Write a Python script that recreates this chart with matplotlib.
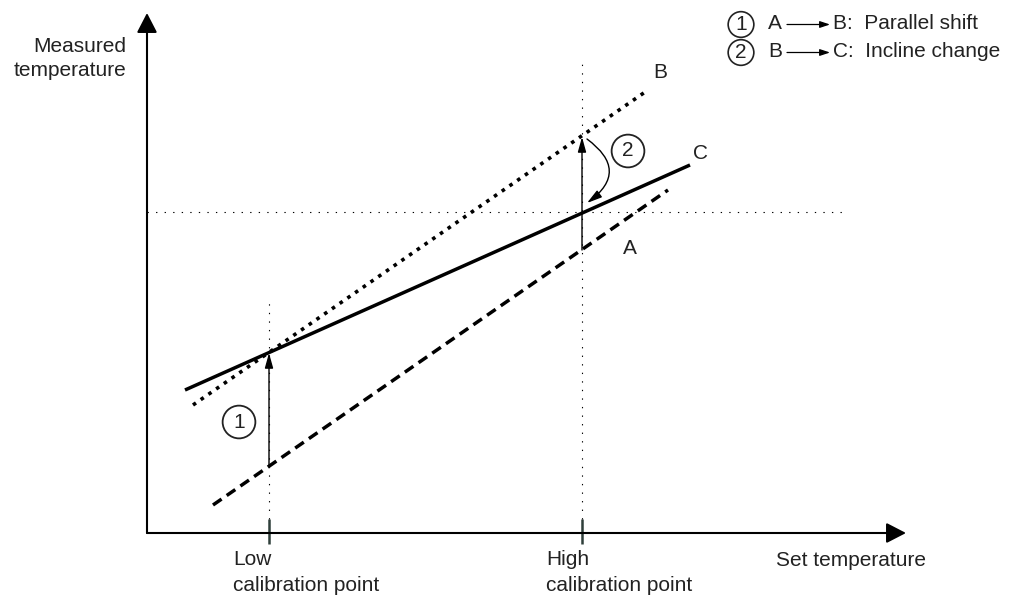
import matplotlib.pyplot as plt
from matplotlib.patches import FancyArrowPatch

plt.rcParams['font.family'] = ['Liberation Sans', 'DejaVu Sans']

# diagram units (about 1 px each), origin where the two axes meet
x_axis_end = 759
y_axis_end = 520
low_cal = 122
high_cal = 435
cal_labels = ['Low\ncalibration point', 'High\ncalibration point']

# characteristic lines A (original), B (after offset), C (after incline change)
line_a_x = [66, 521]
line_a_y = [28, 343]
line_b_x = [46, 501]
line_b_y = [128, 443]
line_c_x = [38, 543]
line_c_y = [143, 368]

# levels at the calibration points
low_a = 67
low_bc = 180
high_a = 283
high_b = 396
high_c = 321

guide_right = 698
low_guide_top = 233
high_guide_top = 469

legend_rows = [('1', 'A', 'B:  Parallel shift'), ('2', 'B', 'C:  Incline change')]

TXT = '#222222'
FS = 15

fig = plt.figure(figsize=(10.1, 5.96), dpi=100)
ax = fig.add_axes([0, 0, 1, 1])
ax.set_xlim(-147, 863)
ax.set_ylim(-63, 533)
ax.axis('off')

big_head = '-|>,head_length=1.2,head_width=0.62'
small_head = '-|>,head_length=0.9,head_width=0.25'

# axes with arrow heads
ax.annotate('', xy=(x_axis_end, 0), xytext=(0, 0),
            arrowprops=dict(arrowstyle=big_head, mutation_scale=10, lw=1.5,
                            color='black', shrinkA=0, shrinkB=0))
ax.annotate('', xy=(0, y_axis_end), xytext=(0, 0),
            arrowprops=dict(arrowstyle=big_head, mutation_scale=10, lw=1.5,
                            color='black', shrinkA=0, shrinkB=0))

# calibration ticks + labels (baseline = last line)
for x, lab in zip([low_cal, high_cal], cal_labels):
    ax.plot([x, x], [-11, 14], color='#2f3f3a', lw=1.8, solid_capstyle='butt')
    ax.text(x - 36, -58, lab, ha='left', va='baseline', fontsize=FS, color=TXT,
            linespacing=1.46)

ax.text(629, -33, 'Set temperature', ha='left', va='baseline', fontsize=FS, color=TXT)
ax.text(-21, 457, 'Measured\ntemperature', ha='right', va='baseline', fontsize=FS,
        color=TXT, linespacing=1.35)

# dotted guide lines
guide = dict(color='black', lw=0.8, ls=(0, (1.2, 6.5)))
ax.plot([0, guide_right], [high_c, high_c], **guide)
ax.plot([low_cal, low_cal], [14, low_guide_top], **guide)
ax.plot([high_cal, high_cal], [14, high_guide_top], **guide)

# characteristic lines
ax.plot(line_a_x, line_a_y, color='black', lw=2.5, ls=(0, (3, 1.8)))
ax.plot(line_b_x, line_b_y, color='black', lw=2.6, ls=(0, (1, 1.6)))
ax.plot(line_c_x, line_c_y, color='black', lw=2.5, solid_capstyle='butt')

ax.text(506, 455, 'B', fontsize=FS, color=TXT, ha='left', va='baseline')
ax.text(546, 374, 'C', fontsize=FS, color=TXT, ha='left', va='baseline')
ax.text(476, 279, 'A', fontsize=FS, color=TXT, ha='left', va='baseline')

# step 1: parallel shift at low point
ax.annotate('', xy=(low_cal, low_bc), xytext=(low_cal, low_a),
            arrowprops=dict(arrowstyle=small_head, mutation_scale=10, lw=1.0,
                            color='black', shrinkA=0, shrinkB=0))
# shift seen at high point
ax.annotate('', xy=(high_cal, high_b), xytext=(high_cal, high_a),
            arrowprops=dict(arrowstyle=small_head, mutation_scale=10, lw=1.0,
                            color='black', shrinkA=0, shrinkB=0))
# step 2: incline change
ax.add_patch(FancyArrowPatch((high_cal + 5, high_b - 2), (high_cal + 5, high_c + 9),
                             connectionstyle='arc3,rad=-0.68', arrowstyle=small_head,
                             mutation_scale=10, lw=1.0, color='black',
                             shrinkA=0, shrinkB=0))

circ = dict(boxstyle='circle,pad=0.33', fc='white', ec=TXT, lw=1.3)
ax.text(92, 111, '1', fontsize=FS, color=TXT, ha='center', va='center', bbox=circ)
ax.text(481, 382, '2', fontsize=FS, color=TXT, ha='center', va='center', bbox=circ)

# legend in the top right corner
circ_small = dict(boxstyle='circle,pad=0.16', fc='white', ec=TXT, lw=1.2)
for i, (num, src, dst) in enumerate(legend_rows):
    yc = 508.5 - i * 28
    ax.text(594, yc, num, fontsize=FS, color=TXT, ha='center', va='center', bbox=circ_small)
    ax.text(621, yc - 4.5, src, fontsize=FS, color=TXT, ha='left', va='baseline')
    ax.annotate('', xy=(683, yc), xytext=(640, yc),
                arrowprops=dict(arrowstyle='-|>,head_length=0.6,head_width=0.2',
                                mutation_scale=10, lw=0.9, color='black',
                                shrinkA=0, shrinkB=0))
    ax.text(686, yc - 4.5, dst, fontsize=FS, color=TXT, ha='left', va='baseline')

fig.savefig('out.png', dpi=100)
